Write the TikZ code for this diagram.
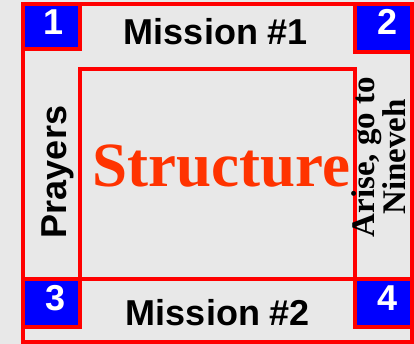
\documentclass[tikz,border=0pt]{standalone}
\usepackage{fontspec}
\setmainfont{Liberation Serif}
\setsansfont{Liberation Sans}
\usetikzlibrary{positioning}

\definecolor{bggray}{HTML}{E8E8E8}
\definecolor{boxred}{HTML}{FF0000}
\definecolor{numblue}{HTML}{0000FF}
\definecolor{titlered}{HTML}{FF3300}

\begin{document}
\begin{tikzpicture}[x=1pt, y=-1pt,
    frameline/.style={draw=boxred, line width=4pt},
    numbox/.style={frameline, fill=numblue},
    numtext/.style={text=white, font=\sffamily\bfseries\fontsize{36}{36}\selectfont, anchor=base, inner sep=0pt},
    headtext/.style={font=\sffamily\bfseries\fontsize{36}{36}\selectfont, anchor=base, inner sep=0pt}]
  \fill[bggray] (0,0) rectangle (414,344);

  % frames
  \draw[frameline] (22.5,4) rectangle (411.5,341.5);
  \draw[frameline] (80,69) rectangle (355,278.5);
  \draw[numbox] (22.5,4) rectangle (80,49);
  \draw[numbox] (355,4) rectangle (411.5,52);
  \draw[numbox] (22.5,278.5) rectangle (80,327);
  \draw[numbox] (355,278.5) rectangle (411.5,327);

  % corner numbers
  \node[numtext] (one) at (54,35) {1};
  \node[numtext] (two) at (387.5,35) {2};
  \node[numtext] (three) at (56,310) {3};
  \node[numtext] (four) at (387.5,310) {4};

  \node[headtext] (mission1) at (216,45) {Mission \#1};
  \node[headtext] (mission2) at (218,325) {Mission \#2};
  \node[headtext, rotate=90] (prayers) at (66,172) {Prayers};

  \node[anchor=base, inner sep=0pt, text=titlered, font=\bfseries\fontsize{63}{63}\selectfont] (structure) at (221.5,187) {Structure};
  \node[rotate=90, align=center, inner sep=0pt, font=\bfseries\fontsize{33}{30}\selectfont] (arise) at (379,157) {Arise, go to\\Nineveh};
\end{tikzpicture}
\end{document}
